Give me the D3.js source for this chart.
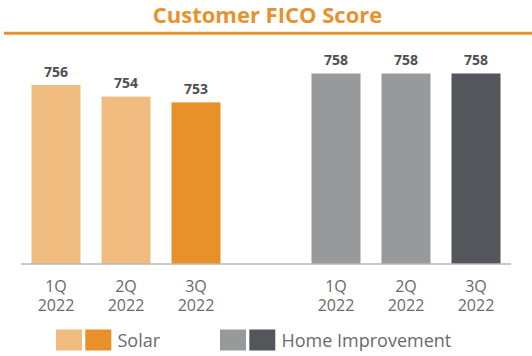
<!DOCTYPE html>
<html>
<head>
<meta charset="utf-8">
<script src="https://cdn.jsdelivr.net/npm/d3@7"></script>
<style>
  html, body { margin: 0; padding: 0; background: #fff; }
  svg { display: block; font-family: "Open Sans", sans-serif; }
</style>
</head>
<body>
<svg id="chart" width="532" height="356"></svg>
<script>
const title = "Customer FICO Score";
const categories = ["S1", "S2", "S3", "gap", "H1", "H2", "H3"];
const quarterLabels = ["1Q", "2Q", "3Q", "", "1Q", "2Q", "3Q"];
const yearLabels = ["2022", "2022", "2022", "", "2022", "2022", "2022"];
const values = [756, 754, 753, null, 758, 758, 758];
const barColors = ["#F0BC7F", "#F0BC7F", "#E8912A", null, "#98999B", "#98999B", "#54565B"];
const legendNames = ["Solar", "Home Improvement"];
const legendColors = [["#F0BC7F", "#E8912A"], ["#98999B", "#54565B"]];

const svg = d3.select("#chart");

// Title
svg.append("text")
  .attr("x", 267.5).attr("y", 22.5)
  .attr("text-anchor", "middle")
  .attr("font-size", 22).attr("font-weight", 700)
  .attr("fill", "#E8922E")
  .text(title);
svg.append("line")
  .attr("x1", 4).attr("x2", 532).attr("y1", 33.3).attr("y2", 33.3)
  .attr("stroke", "#E8922E").attr("stroke-width", 3);

const x = d3.scaleBand().domain(categories).range([21, 511])
  .paddingInner(0.3).paddingOuter(0.15);
const y = d3.scaleLinear().domain([725, 758]).range([264, 73.5]);

const data = categories.map((c, i) => ({c, v: values[i], col: barColors[i], q: quarterLabels[i], yr: yearLabels[i]}));
const bars = data.filter(d => d.v != null);

svg.selectAll("rect.bar").data(bars).join("rect")
  .attr("class", "bar")
  .attr("x", d => x(d.c)).attr("width", x.bandwidth())
  .attr("y", d => y(d.v)).attr("height", d => y.range()[0] - y(d.v))
  .attr("fill", d => d.col);

svg.selectAll("text.val").data(bars).join("text")
  .attr("class", "val")
  .attr("x", d => x(d.c) + x.bandwidth() / 2)
  .attr("y", d => y(d.v) - 8.3)
  .attr("text-anchor", "middle")
  .attr("font-size", 14).attr("font-weight", 700)
  .attr("fill", "#4f4f4f")
  .text(d => d.v);

// baseline axis
svg.append("line")
  .attr("x1", x.range()[0]).attr("x2", x.range()[1])
  .attr("y1", 264).attr("y2", 264)
  .attr("stroke", "#b8b8b8").attr("stroke-width", 1.5);

svg.selectAll("text.xq").data(bars).join("text")
  .attr("class", "xq")
  .attr("x", d => x(d.c) + x.bandwidth() / 2).attr("y", 292)
  .attr("text-anchor", "middle")
  .attr("font-size", 16)
  .attr("fill", "#6a6a6a")
  .text(d => d.q);
svg.selectAll("text.xy").data(bars).join("text")
  .attr("class", "xy")
  .attr("x", d => x(d.c) + x.bandwidth() / 2).attr("y", 310.5)
  .attr("text-anchor", "middle")
  .attr("font-size", 16)
  .attr("fill", "#6a6a6a")
  .text(d => d.yr);

// legend
const legendX = [56, 220];
legendNames.forEach((name, i) => {
  const g = svg.append("g").attr("transform", `translate(${legendX[i]},329.5)`);
  legendColors[i].forEach((c, j) => {
    g.append("rect").attr("x", j * 29.3).attr("y", 0).attr("width", 26).attr("height", 21).attr("fill", c);
  });
  g.append("text").attr("x", 61.5).attr("y", 17)
    .attr("font-size", 18).attr("fill", "#6a6a6a").text(name);
});
</script>
</body>
</html>
